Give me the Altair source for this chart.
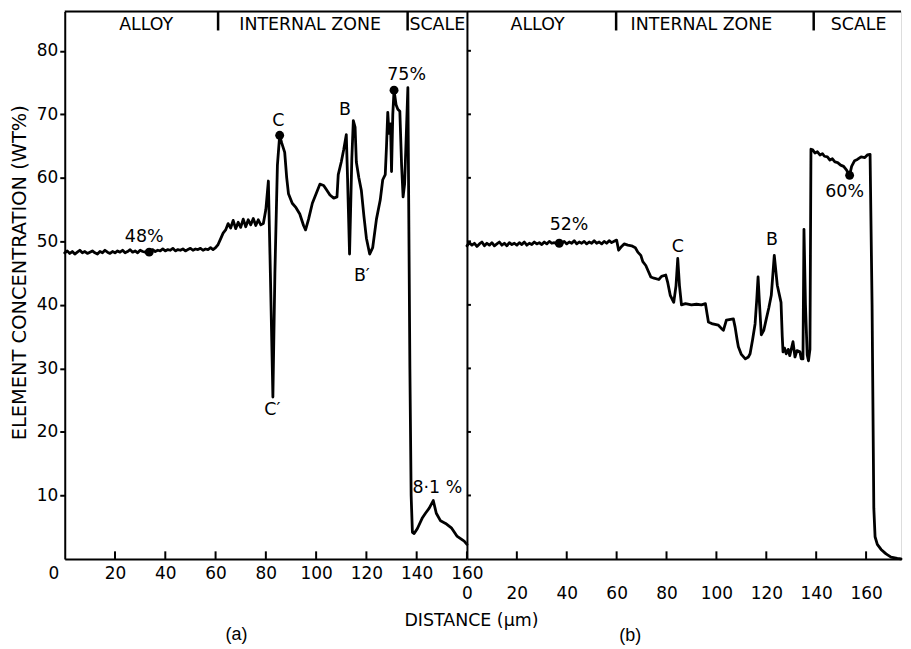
import altair as alt
import pandas as pd

FONT = "DejaVu Sans"
YMAX = 86.2

# ---------------- panel (a) ----------------
a_flat_x = list(range(0, 61))
a_flat_y = [48.2, 48.5, 48.1, 48.4, 48.0, 48.3, 48.6, 48.2, 48.4, 48.1,
            48.3, 48.5, 48.2, 48.0, 48.4, 48.2, 48.6, 48.3, 48.1, 48.4,
            48.2, 48.5, 48.3, 48.6, 48.2, 48.4, 48.7, 48.3, 48.5, 48.2,
            48.6, 48.4, 48.3, 48.3, 48.5, 48.7, 48.4, 48.6, 48.5, 48.8,
            48.5, 48.7, 48.6, 48.9, 48.5, 48.7, 48.6, 48.8, 48.5, 48.7,
            48.9, 48.6, 48.8, 48.7, 48.9, 48.6, 48.8, 48.7, 49.0, 48.7, 49.0]
a_rest_x = [61, 62, 63, 64, 65, 66, 67, 68, 69, 70,
            71, 72, 73, 74, 75, 76, 77, 78, 79, 80,
            81, 81.8, 82.8, 83.6, 84.6, 85.5, 86.3, 87.5, 88.3, 89.0,
            90.5, 92, 93.5, 95, 95.8, 97, 98.5, 100, 101.5, 103,
            104, 105.5, 107, 108.3, 108.8, 110, 111, 112, 112.5, 113.3,
            114.2, 114.8, 115.5, 116, 117, 118, 119, 120, 121.3, 122.5,
            124, 125.5, 126.5, 127.5, 128, 128.5, 129, 129.6, 130, 130.5,
            131, 131.8, 132.5, 133.3, 134, 134.6, 135.2, 135.8, 136.5, 137.3,
            137.8, 138.3, 139, 140.3, 142.3, 143.5, 145, 146.6, 147.8, 149.5,
            151.5, 153.8, 156, 158.9, 160]
a_rest_y = [49.5, 50.4, 51.3, 51.8, 52.8, 52.1, 53.3, 52.0, 53.0, 52.2,
            53.5, 52.3, 53.4, 52.6, 53.6, 52.5, 53.4, 52.6, 52.8, 55.0,
            59.5, 45, 25.5, 45, 62, 66.7, 65.5, 64.0, 60, 57.5,
            56.0, 55.3, 54.3, 52.5, 51.8, 53.5, 56.0, 57.5, 59.0, 58.8,
            58.2, 57.3, 56.8, 57.0, 60.5, 62.5, 64.5, 66.8, 60, 48,
            63, 69.0, 68, 62.5, 60, 58, 54, 50.5, 48.0, 49,
            53.5, 56.5, 59.7, 60.5, 65, 70.3, 67, 68.5, 61, 70,
            73.8, 71.5, 70.8, 70.5, 62, 57.0, 59, 66, 74.2, 30,
            10, 4.2, 4.0, 4.8, 6.5, 7.2, 8.0, 9.2, 7.2, 6.0,
            5.6, 4.9, 3.6, 2.8, 2.3]

a_dot_x = [33.6, 85.5, 131.0]
a_dot_y = [48.3, 66.7, 73.8]

a_lab_text = ["48%", "C", "B", "B\u2032", "75%", "C\u2032", "8\u00b71 %"]
a_lab_x = [31.6, 85.0, 111.5, 118.2, 136.0, 82.6, 148.2]
a_lab_y = [50.7, 69.0, 70.7, 44.6, 76.2, 23.5, 11.1]

a_zone_text = ["ALLOY", "INTERNAL ZONE", "SCALE"]
a_zone_x = [32.4, 97.6, 148.2]
a_div_x = [61.0, 136.4]

# ---------------- panel (b) ----------------
b_flat_x = list(range(0, 61))
b_flat_y = [49.3, 49.8, 49.4, 49.7, 49.2, 49.6, 49.9, 49.3, 49.7, 49.4,
            49.8, 49.3, 49.6, 49.9, 49.4, 49.7, 49.3, 49.8, 49.5, 49.7,
            49.4, 49.8, 49.5, 49.9, 49.4, 49.7, 49.5, 49.9, 49.6, 49.8,
            49.5, 49.9, 49.6, 50.0, 49.7, 49.8, 49.6, 49.9, 49.7, 50.0,
            49.6, 49.9, 49.7, 50.1, 49.6, 49.9, 49.7, 50.0, 49.6, 49.9,
            49.7, 50.1, 49.7, 49.9, 49.6, 50.0, 49.7, 50.1, 49.8, 50.0, 50.2]
b_rest_x = [60.8, 62, 63, 64.5, 66, 67.5, 68.5, 69.7, 70.5, 71.7,
            72.7, 73.7, 75, 76.9, 78, 79.7, 80.5, 81.5, 82.9, 83.8,
            84.5, 85.2, 86, 87.6, 90, 92, 94, 95.6, 96.3, 96.8,
            98.5, 100.8, 102, 102.8, 104, 106.8, 107.5, 108.3, 108.8, 110,
            111.6, 112.8, 113.5, 114.5, 115.5, 116.2, 116.7, 117.3, 118, 119,
            120, 121, 122, 123.2, 124.4, 125.9, 126.4, 126.7, 127.3, 128,
            128.8, 129.4, 130, 130.7, 131.5, 132.3, 133.5, 134, 134.7, 135.1,
            135.7, 136.4, 136.9, 137.5, 137.9, 138.6, 139.5, 140.5, 141.5, 142.5,
            143.3, 144.5, 145.5, 146.5, 147.5, 148.6, 149.8, 151, 152.2, 153.4,
            154.2, 155.4, 156.5, 158, 159.5, 160.5, 161.6, 162.4, 163.1, 163.6,
            164.5, 166, 168, 170, 172.5, 174]
b_rest_y = [48.6, 49.2, 49.6, 49.4, 49.3, 49.0, 48.3, 47.8, 46.8, 46.2,
            45.3, 44.4, 44.2, 44.0, 44.5, 44.7, 43.5, 41.5, 40.4, 43,
            47.3, 43, 40.0, 40.2, 40.0, 40.1, 40.0, 40.2, 38.5, 37.3,
            37.0, 36.8, 36.3, 36.0, 37.6, 37.8, 36.5, 34.5, 33.4, 32.2,
            31.5, 31.8, 32.3, 34.5, 37, 41, 44.4, 40, 35.3, 36.0,
            37.8, 39.5, 41.5, 47.8, 43.1, 40.4, 35, 32.6, 33.2, 32.3,
            33.0, 32.0, 33.0, 34.2, 31.8, 32.8, 32.6, 31.5, 31.5, 51.9,
            40, 32.1, 31.2, 33.0, 64.5, 64.4, 63.9, 64.1, 63.6, 63.8,
            63.4, 63.3, 62.8, 63.0, 62.5, 62.4, 62.0, 61.8, 61.2, 60.4,
            61.8, 62.7, 62.9, 63.3, 63.2, 63.6, 63.7, 40, 8, 3.5,
            2.3, 1.5, 0.8, 0.3, 0.1, 0.0]

b_dot_x = [37.0, 153.4]
b_dot_y = [49.7, 60.4]

b_lab_text = ["52%", "C", "B", "60%"]
b_lab_x = [40.9, 84.5, 122.3, 151.4]
b_lab_y = [52.5, 49.1, 50.2, 57.7]

b_zone_text = ["ALLOY", "INTERNAL ZONE", "SCALE"]
b_zone_x = [28.3, 94.0, 157.0]
b_div_x = [59.8, 139.0]

x_tick_values = [20, 40, 60, 80, 100, 120, 140, 160]
x_label_values = [0, 20, 40, 60, 80, 100, 120, 140, 160]
y_tick_values = [10, 20, 30, 40, 50, 60, 70, 80]


def build_panel(flat_x, flat_y, rest_x, rest_y, dot_x, dot_y, lab_text, lab_x, lab_y,
                zone_text, zone_x, div_x, xmax, width, x_axis, y_axis, inner_yticks):
    xs = flat_x + rest_x
    ys = flat_y + rest_y
    line_df = pd.DataFrame({"x": xs, "y": ys, "i": list(range(len(xs)))})
    xsc = alt.Scale(domain=[0, xmax], nice=False, zero=False)
    ysc = alt.Scale(domain=[0, YMAX], nice=False, zero=False)

    line = alt.Chart(line_df).mark_line(
        color="black", strokeWidth=2.8, strokeJoin="round", strokeCap="round"
    ).encode(
        x=alt.X("x:Q", scale=xsc, axis=x_axis),
        y=alt.Y("y:Q", scale=ysc, axis=y_axis),
        order="i:Q",
    )

    dots = alt.Chart(pd.DataFrame({"x": dot_x, "y": dot_y})).mark_point(
        filled=True, color="black", size=80, opacity=1
    ).encode(x=alt.X("x:Q", scale=xsc), y=alt.Y("y:Q", scale=ysc))

    labels = alt.Chart(pd.DataFrame({"x": lab_x, "y": lab_y, "t": lab_text})).mark_text(
        font=FONT, fontSize=17.5, color="black", align="center", baseline="middle"
    ).encode(x=alt.X("x:Q", scale=xsc), y=alt.Y("y:Q", scale=ysc), text="t:N")

    zones = alt.Chart(pd.DataFrame({"x": zone_x, "y": [84.0] * len(zone_x), "t": zone_text})).mark_text(
        font=FONT, fontSize=17.5, color="black", align="center", baseline="middle"
    ).encode(x=alt.X("x:Q", scale=xsc), y=alt.Y("y:Q", scale=ysc), text="t:N")

    dividers = alt.Chart(pd.DataFrame({"x": div_x, "y": [YMAX] * len(div_x),
                                       "y2": [83.2] * len(div_x)})).mark_rule(
        color="black", strokeWidth=2.5
    ).encode(x=alt.X("x:Q", scale=xsc), y=alt.Y("y:Q", scale=ysc), y2="y2:Q")

    top = alt.Chart(pd.DataFrame({"x": [0], "x2": [xmax], "y": [YMAX]})).mark_rule(
        color="black", strokeWidth=2
    ).encode(x=alt.X("x:Q", scale=xsc), x2="x2:Q", y=alt.Y("y:Q", scale=ysc))

    xticks = alt.Chart(pd.DataFrame({"x": x_tick_values, "y": [0] * len(x_tick_values),
                                     "y2": [1.2] * len(x_tick_values)})).mark_rule(
        color="black", strokeWidth=2
    ).encode(x=alt.X("x:Q", scale=xsc), y=alt.Y("y:Q", scale=ysc), y2="y2:Q")

    layers = [line, dots, labels, zones, dividers, top, xticks]
    if inner_yticks:
        yt = alt.Chart(pd.DataFrame({"x": [0] * len(y_tick_values), "x2": [1.6] * len(y_tick_values),
                                     "y": y_tick_values})).mark_rule(
            color="black", strokeWidth=2
        ).encode(x=alt.X("x:Q", scale=xsc), x2="x2:Q", y=alt.Y("y:Q", scale=ysc))
        layers.append(yt)

    return alt.layer(*layers).properties(width=width, height=550)


left_x_axis = alt.Axis(
    values=x_label_values, ticks=False, grid=False, domainWidth=2, domainColor="black",
    labelPadding=7, labelFlush=False, labelFontSize=17, labelFont=FONT, labelColor="black",
    labelAlign={"condition": {"test": "datum.value == 0", "value": "right"}, "value": "center"},
    labelOffset={"condition": {"test": "datum.value == 0", "value": -6}, "value": 0},
    title="(a)", titleX=172, titleY=76, titleFont="Liberation Sans", titleFontSize=18,
    titleFontWeight="normal", titleAlign="center", titleBaseline="middle", titleColor="black",
)
left_y_axis = alt.Axis(
    values=y_tick_values, tickSize=5, tickWidth=2, tickColor="black", grid=False,
    domainWidth=2, domainColor="black", labelPadding=2, labelFontSize=17, labelFont=FONT,
    labelColor="black", title="ELEMENT CONCENTRATION (WT%)", titleFont=FONT, titleFontSize=19.5,
    titleFontWeight="normal", titlePadding=7, titleY=262, titleColor="black",
)
right_x_axis = alt.Axis(
    values=x_label_values, ticks=False, grid=False, domainWidth=2, domainColor="black",
    labelPadding=27, labelFlush=False, labelFontSize=17, labelFont=FONT, labelColor="black",
    title="DISTANCE (\u03bcm)", titleX=4, titleY=62, titleFont=FONT, titleFontSize=17.5,
    titleFontWeight="normal", titleAlign="center", titleBaseline="middle", titleColor="black",
)
right_y_axis = alt.Axis(
    labels=False, ticks=False, grid=False, domainWidth=2, domainColor="black", title=None,
)

left = build_panel(a_flat_x, a_flat_y, a_rest_x, a_rest_y, a_dot_x, a_dot_y,
                   a_lab_text, a_lab_x, a_lab_y, a_zone_text, a_zone_x, a_div_x,
                   160, 404, left_x_axis, left_y_axis, False)
right = build_panel(b_flat_x, b_flat_y, b_rest_x, b_rest_y, b_dot_x, b_dot_y,
                    b_lab_text, b_lab_x, b_lab_y, b_zone_text, b_zone_x, b_div_x,
                    174, 436, right_x_axis, right_y_axis, True).properties(
    title=alt.TitleParams("(b)", orient="bottom", anchor="start", frame="group", dx=153,
                          offset=-2, font="Liberation Sans", fontSize=18, fontWeight="normal",
                          color="black")
)

chart = alt.hconcat(left, right, spacing=0, bounds="flush").properties(
    padding={"left": 0, "top": 0, "right": 0, "bottom": 0}
).configure_view(strokeWidth=0).configure(font=FONT)

chart.save("out.html", embed_options={"renderer": "svg", "actions": False})
